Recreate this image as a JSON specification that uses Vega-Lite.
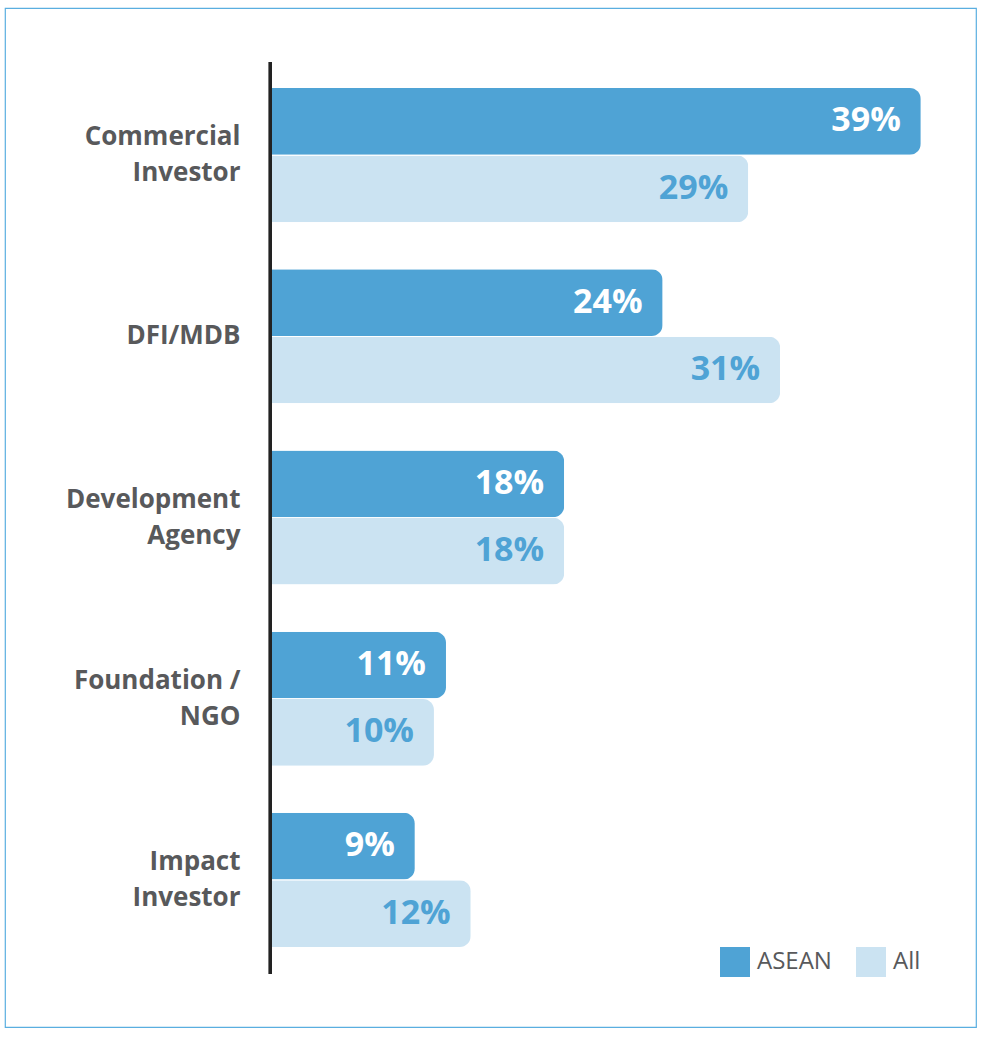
{
  "$schema": "https://vega.github.io/schema/vega-lite/v6.json",
  "autosize": "none",
  "width": 971,
  "height": 1019,
  "padding": {"left": 5, "top": 8, "right": 8, "bottom": 11},
  "background": "#ffffff",
  "config": {
    "view": {"stroke": "#5aaee0", "strokeWidth": 1.2, "fill": "#ffffff"},
    "font": "Open Sans"
  },
  "data": {
    "values": [
      {"category": "Commercial Investor", "series": "ASEAN", "value": 0.3945},
      {"category": "Commercial Investor", "series": "All", "value": 0.2899},
      {"category": "DFI/MDB", "series": "ASEAN", "value": 0.2379},
      {"category": "DFI/MDB", "series": "All", "value": 0.3092},
      {"category": "Development Agency", "series": "ASEAN", "value": 0.1782},
      {"category": "Development Agency", "series": "All", "value": 0.1782},
      {"category": "Foundation / NGO", "series": "ASEAN", "value": 0.1065},
      {"category": "Foundation / NGO", "series": "All", "value": 0.0992},
      {"category": "Impact Investor", "series": "ASEAN", "value": 0.0876},
      {"category": "Impact Investor", "series": "All", "value": 0.1215}
    ]
  },
  "resolve": {"scale": {"y": "independent"}},
  "layer": [
    {
      "encoding": {
        "y": {
          "field": "category",
          "type": "nominal",
          "sort": null,
          "scale": {"paddingInner": 0.26, "paddingOuter": 0.442},
          "axis": {
            "title": null,
            "domain": false,
            "ticks": false,
            "offset": -265,
            "labelPadding": 30,
            "labelFont": "Open Sans",
            "labelFontWeight": "bold",
            "labelFontSize": 26,
            "labelColor": "#58595b",
            "labelLineHeight": 36,
            "labelAlign": "right",
            "labelBaseline": "middle",
            "labelOffset": {"condition": {"test": "datum.value == 'DFI/MDB'", "value": 0}, "value": -18},
            "labelExpr": "datum.label == 'Foundation / NGO' ? ['Foundation /', 'NGO'] : split(datum.label, ' ')"
          }
        },
        "yOffset": {
          "field": "series",
          "type": "nominal",
          "sort": ["ASEAN", "All"],
          "scale": {"paddingInner": 0.01, "paddingOuter": 0}
        },
        "x": {
          "field": "value",
          "type": "quantitative",
          "scale": {"domain": [-0.161, 0.428], "nice": false, "zero": false},
          "axis": null
        }
      },
      "layer": [
        {
          "mark": {"type": "bar", "cornerRadiusEnd": 11},
          "encoding": {
            "color": {
              "field": "series",
              "type": "nominal",
              "scale": {"domain": ["ASEAN", "All"], "range": ["#4fa3d5", "#cbe3f2"]},
              "legend": {
                "title": null,
                "orient": "none",
                "legendX": 715,
                "legendY": 939,
                "direction": "horizontal",
                "symbolType": "square",
                "symbolSize": 900,
                "symbolStrokeWidth": 0,
                "labelFont": "Open Sans",
                "labelFontSize": 24,
                "labelColor": "#58595b",
                "labelOffset": 7,
                "columnPadding": 24
              }
            }
          }
        },
        {
          "mark": {
            "type": "text",
            "align": "right",
            "baseline": "middle",
            "dx": -20,
            "font": "Open Sans",
            "fontWeight": "bold",
            "fontSize": 34
          },
          "encoding": {
            "text": {"field": "value", "type": "quantitative", "format": ".0%"},
            "color": {
              "condition": {"test": "datum.series == 'ASEAN'", "value": "#ffffff"},
              "value": "#4fa3d5"
            }
          }
        }
      ]
    },
    {
      "mark": {"type": "rule", "color": "#222222", "strokeWidth": 3},
      "encoding": {
        "x": {"datum": 0, "type": "quantitative"},
        "y": {
          "datum": 0,
          "type": "quantitative",
          "scale": {"domain": [-0.05811, 1.05921], "nice": false, "zero": false},
          "axis": null
        },
        "y2": {"datum": 1}
      }
    }
  ]
}
